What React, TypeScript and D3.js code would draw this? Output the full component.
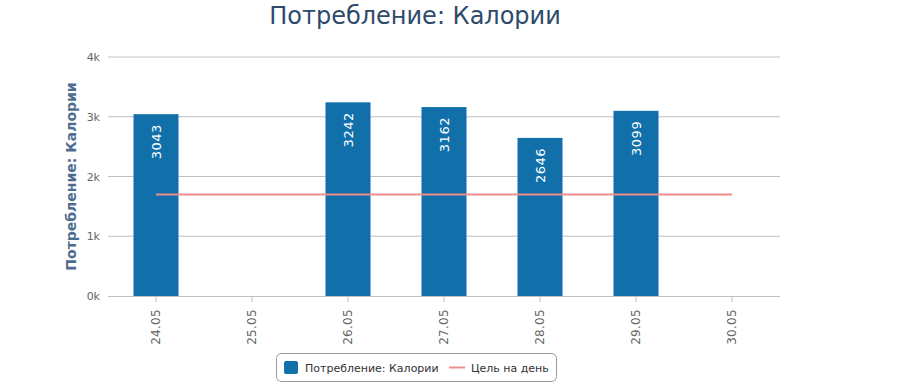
import { useEffect, useRef } from "react";
import * as d3 from "d3";

const days = ["24.05", "25.05", "26.05", "27.05", "28.05", "29.05", "30.05"];
const calories: (number | null)[] = [3043, null, 3242, 3162, 2646, 3099, null];
const dailyGoal = [1700, 1700, 1700, 1700, 1700, 1700, 1700];
const yTicks = [0, 1000, 2000, 3000, 4000];

const FONT = "DejaVu Sans, sans-serif";
const BAR_COLOR = "#1170aa";
const GOAL_COLOR = "#f08c8c";

export default function App() {
  const svgRef = useRef<SVGSVGElement>(null);

  useEffect(() => {
    const width = 897;
    const height = 385;
    const margin = { top: 57, right: 117, bottom: 89, left: 108 };
    const svg = d3.select(svgRef.current);
    svg.selectAll("*").remove();
    svg.attr("width", width).attr("height", height).style("font-family", FONT);

    const x = d3
      .scaleBand()
      .domain(days)
      .range([margin.left, width - margin.right])
      .paddingInner(0)
      .paddingOuter(0);

    const y = d3
      .scaleLinear()
      .domain([0, 4000])
      .range([height - margin.bottom, margin.top]);

    // grid lines
    svg
      .append("g")
      .selectAll("line")
      .data(yTicks.filter((t) => t > 0))
      .enter()
      .append("line")
      .attr("x1", margin.left)
      .attr("x2", width - margin.right)
      .attr("y1", (d) => y(d))
      .attr("y2", (d) => y(d))
      .attr("stroke", "#c0c0c0")
      .attr("stroke-width", 1);

    // y tick labels
    svg
      .append("g")
      .selectAll("text")
      .data(yTicks)
      .enter()
      .append("text")
      .attr("x", margin.left - 8)
      .attr("y", (d) => y(d) + 4)
      .attr("text-anchor", "end")
      .attr("font-size", 11)
      .attr("fill", "#666")
      .text((d) => d / 1000 + "k");

    // y axis title
    svg
      .append("text")
      .attr("transform", `translate(76, ${(y(0) + y(4000)) / 2}) rotate(-90)`)
      .attr("text-anchor", "middle")
      .attr("font-size", 14)
      .attr("font-weight", "bold")
      .attr("fill", "#4d6d8f")
      .text("Потребление: Калории");

    // bars
    const barW = 45;
    const bars = days
      .map((d, i) => ({ day: d, v: calories[i] }))
      .filter((d) => d.v !== null) as { day: string; v: number }[];

    svg
      .append("g")
      .selectAll("rect")
      .data(bars)
      .enter()
      .append("rect")
      .attr("x", (d) => x(d.day)! + x.bandwidth() / 2 - barW / 2)
      .attr("y", (d) => y(d.v))
      .attr("width", barW)
      .attr("height", (d) => y(0) - y(d.v))
      .attr("fill", BAR_COLOR);

    // x axis line
    svg
      .append("line")
      .attr("x1", margin.left)
      .attr("x2", width - margin.right)
      .attr("y1", y(0) + 0.5)
      .attr("y2", y(0) + 0.5)
      .attr("stroke", "#c0c0c0");

    // x ticks
    svg
      .append("g")
      .selectAll("line")
      .data(days)
      .enter()
      .append("line")
      .attr("x1", (d) => x(d)! + x.bandwidth() / 2)
      .attr("x2", (d) => x(d)! + x.bandwidth() / 2)
      .attr("y1", y(0))
      .attr("y2", y(0) + 6)
      .attr("stroke", "#c0c0c0");

    svg
      .append("g")
      .selectAll("text")
      .data(days)
      .enter()
      .append("text")
      .attr(
        "transform",
        (d) => `translate(${x(d)! + x.bandwidth() / 2 + 4}, ${y(0) + 13}) rotate(-90)`
      )
      .attr("text-anchor", "end")
      .attr("font-size", 12)
      .attr("letter-spacing", 0.3)
      .attr("fill", "#666")
      .text((d) => d);

    // goal line
    const line = d3
      .line<number>()
      .x((_, i) => x(days[i])! + x.bandwidth() / 2)
      .y((d) => y(d));
    svg
      .append("path")
      .attr("d", line(dailyGoal))
      .attr("fill", "none")
      .attr("stroke", GOAL_COLOR)
      .attr("stroke-width", 2);

    // bar labels
    svg
      .append("g")
      .selectAll("text")
      .data(bars)
      .enter()
      .append("text")
      .attr(
        "transform",
        (d) => `translate(${x(d.day)! + x.bandwidth() / 2 + 4.5}, ${y(d.v) + 10}) rotate(-90)`
      )
      .attr("text-anchor", "end")
      .attr("font-size", 13)
      .attr("letter-spacing", 0.5)
      .attr("fill", "#fff")
      .text((d) => d.v);

    // title
    svg
      .append("text")
      .attr("x", 415)
      .attr("y", 24)
      .attr("text-anchor", "middle")
      .attr("font-size", 24)
      .attr("fill", "#2d4a6b")
      .text("Потребление: Калории");

    // legend
    const lg = svg.append("g");
    lg.append("rect")
      .attr("x", 276.5)
      .attr("y", 353.5)
      .attr("width", 280)
      .attr("height", 28)
      .attr("rx", 5)
      .attr("fill", "#fff")
      .attr("stroke", "#999");
    lg.append("rect")
      .attr("x", 284)
      .attr("y", 361)
      .attr("width", 14)
      .attr("height", 13)
      .attr("rx", 2)
      .attr("fill", BAR_COLOR);
    lg.append("text")
      .attr("x", 305)
      .attr("y", 372)
      .attr("font-size", 11)
      .attr("fill", "#333")
      .text("Потребление: Калории");
    lg.append("line")
      .attr("x1", 449)
      .attr("x2", 465)
      .attr("y1", 367.5)
      .attr("y2", 367.5)
      .attr("stroke", GOAL_COLOR)
      .attr("stroke-width", 2);
    lg.append("text")
      .attr("x", 471)
      .attr("y", 372)
      .attr("font-size", 11)
      .attr("fill", "#333")
      .text("Цель на день");
  }, []);

  return (
    <div style={{ position: "absolute", left: 0, top: 0 }}>
      <svg ref={svgRef}></svg>
    </div>
  );
}
